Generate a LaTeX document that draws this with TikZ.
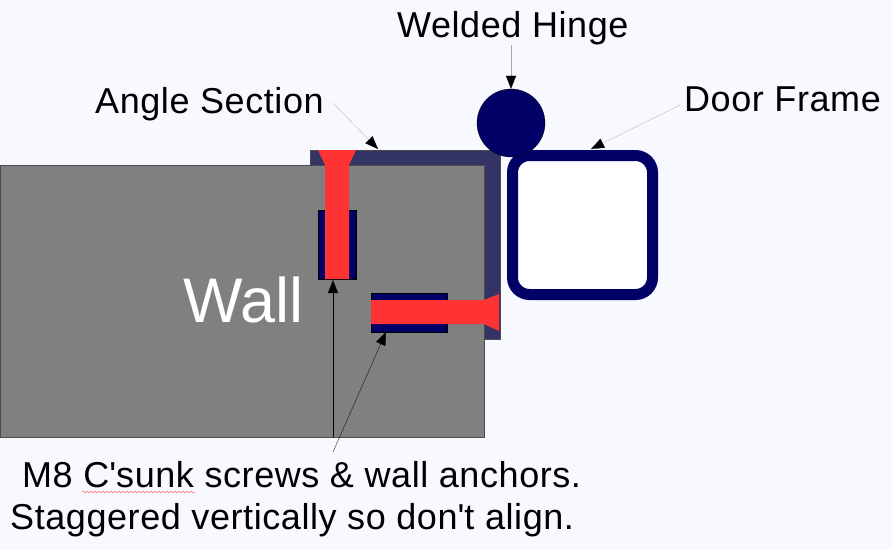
\documentclass[tikz,border=0pt]{standalone}
\usepackage{xcolor}
\usepackage{fontspec}
\setmainfont{Liberation Sans}
\usetikzlibrary{arrows.meta,decorations.pathmorphing}
\definecolor{pagebg}{RGB}{248,248,255}
\definecolor{wallgray}{RGB}{128,128,128}
\definecolor{anglenavy}{RGB}{51,51,102}
\definecolor{steelnavy}{RGB}{0,0,102}
\definecolor{screwred}{RGB}{255,51,51}
\tikzset{
  label/.style={anchor=base west, inner sep=0pt, font=\fontsize{36}{36}\selectfont\addfontfeature{LetterSpace=1.6}},
  leader/.style={draw=black, line width=0.3pt, -{Triangle[length=13pt,width=10pt,color=black]}},
  hairline/.style={draw=gray!70, line width=0.25pt, -{Triangle[length=13pt,width=10pt,color=black]}},
  anchorbox/.style={draw=black, line width=0.4pt, fill=steelnavy},
  screw/.style={fill=screwred, draw=none}
}
\begin{document}
\begin{tikzpicture}[x=1pt, y=-1pt]
  \useasboundingbox[fill=pagebg] (0, 0) rectangle (892, 550);

  % wall and angle
  \draw[draw=black!70, line width=0.5pt, fill=wallgray] (0, 165) rectangle (484, 437);
  \draw[draw=black!70, line width=0.4pt, fill=anglenavy] (310, 165) -- (310, 150) -- (500, 150) -- (500, 339)
    -- (484, 339) -- (484, 165) -- cycle;

  % anchors
  \node (topanchor) at (337, 244.5) [anchorbox, minimum width=38pt, minimum height=69pt, inner sep=0pt] {};
  \node (sideanchor) at (409, 312.5) [anchorbox, minimum width=76pt, minimum height=39pt, inner sep=0pt] {};

  % screws
  \fill[screw] (318, 150) -- (356, 150) -- (349, 165) -- (349, 279) -- (325, 279) -- (325, 165) -- cycle;
  \fill[screw] (371, 300) -- (484, 300) -- (499, 294) -- (499, 331) -- (484, 324) -- (371, 324) -- cycle;

  % door frame and hinge
  \node (frame) at (582.5, 225) [rectangle, rounded corners=17pt, draw=steelnavy, fill=white,
    line width=11pt, minimum width=140pt, minimum height=139pt, inner sep=0pt] {};
  \node (hinge) at (511, 123) [circle, draw=black, line width=0.3pt, fill=steelnavy, minimum size=68pt, inner sep=0pt] {};

  % labels
  \node (hingelabel) at (397, 37) [label] {Welded Hinge};
  \node (anglelabel) at (95, 113) [label] {Angle Section};
  \node (framelabel) at (684, 111) [label] {Door Frame};
  \node (walllabel) at (183, 322) [anchor=base west, inner sep=0pt, text=white, font=\fontsize{63}{63}\selectfont] {Wall};
  \node (screwlabel) at (22, 487) [label] {M8 C\textquotesingle sunk screws \& wall anchors.};
  \node (staggerlabel) at (10, 529) [label] {Staggered vertically so don\textquotesingle t align.};

  % spelling mark
  \draw[screwred!70, line width=0.5pt, decorate, decoration={snake, amplitude=1pt, segment length=4pt}]
    (82, 492) -- (195, 492);

  \coordinate (anglestart) at (333, 103);
  \coordinate (angletip) at (378, 149);
  \coordinate (framestart) at (680, 105);
  \coordinate (frametip) at (591, 149);
  \coordinate (notestart) at (333, 452);
  \coordinate (wallfoot) at (333, 437);
  \coordinate (toptip) at (333, 280);
  \coordinate (sidetip) at (386, 332);

  \draw[hairline] (hingelabel.south -| hinge) to (hinge.north);
  \draw[hairline] (anglestart) to (angletip);
  \draw[hairline] (framestart) to (frametip);
  \draw[leader] (wallfoot) to (toptip);
  \draw[leader] (notestart) to (sidetip);
\end{tikzpicture}
\end{document}
